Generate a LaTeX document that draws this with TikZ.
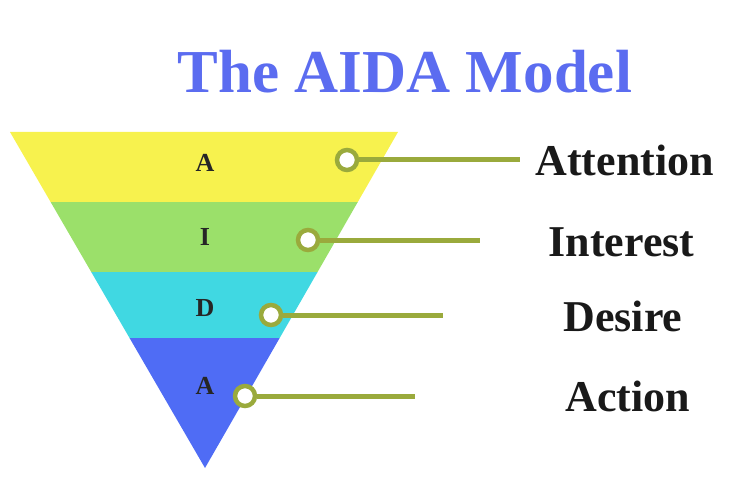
\documentclass[tikz,border=0pt]{standalone}
\usepackage{fontspec}
\setmainfont{Liberation Serif}
\definecolor{cy}{HTML}{F7F24E}
\definecolor{cg}{HTML}{9BE06A}
\definecolor{cc}{HTML}{40D8E2}
\definecolor{cb}{HTML}{4F6CF5}
\definecolor{ol}{HTML}{9AAA3C}
\definecolor{tb}{HTML}{5B6CF0}
\begin{document}
\begin{tikzpicture}[x=1pt,y=-1pt,
  ring/.style={circle,draw=ol,line width=4.5pt,fill=white,minimum size=20pt,inner sep=0pt},
  lead/.style={ol,line width=5pt},
  lab/.style={font=\bfseries\fontsize{44}{48}\selectfont,text=black!90,anchor=west},
  let/.style={font=\bfseries\fontsize{26}{28}\selectfont,text=black!85}]
\useasboundingbox (0,0) rectangle (750,500);
\def\L#1{10+(#1-132)/336*195}
\def\R#1{398-(#1-132)/336*193}
\fill[cy] (10,132) -- (398,132) -- ({\R{202}},202) -- ({\L{202}},202) -- cycle;
\fill[cg] ({\L{202}},202) -- ({\R{202}},202) -- ({\R{272}},272) -- ({\L{272}},272) -- cycle;
\fill[cc] ({\L{272}},272) -- ({\R{272}},272) -- ({\R{338}},338) -- ({\L{338}},338) -- cycle;
\fill[cb] ({\L{338}},338) -- ({\R{338}},338) -- (205,468) -- cycle;
\node[font=\bfseries\fontsize{61}{66}\selectfont,text=tb] (title) at (405,72) {The AIDA Model};
\node[let] (l1) at (205,163) {A};
\node[let] (l2) at (205,237) {I};
\node[let] (l3) at (205,308) {D};
\node[let] (l4) at (205,386) {A};
\coordinate (e1) at (520,160);
\coordinate (e2) at (480,240);
\coordinate (e3) at (443,315);
\coordinate (e4) at (415,396);
\node[ring] (c1) at (347,160) {};
\node[ring] (c2) at (308,240) {};
\node[ring] (c3) at (271,315) {};
\node[ring] (c4) at (245,396) {};
\draw[lead] (c1) -- (e1);
\draw[lead] (c2) -- (e2);
\draw[lead] (c3) -- (e3);
\draw[lead] (c4) -- (e4);
\node[lab] (t1) at (532,160) {Attention};
\node[lab] (t2) at (545,242) {Interest};
\node[lab] (t3) at (560,316) {Desire};
\node[lab] (t4) at (562,396) {Action};
\end{tikzpicture}
\end{document}
